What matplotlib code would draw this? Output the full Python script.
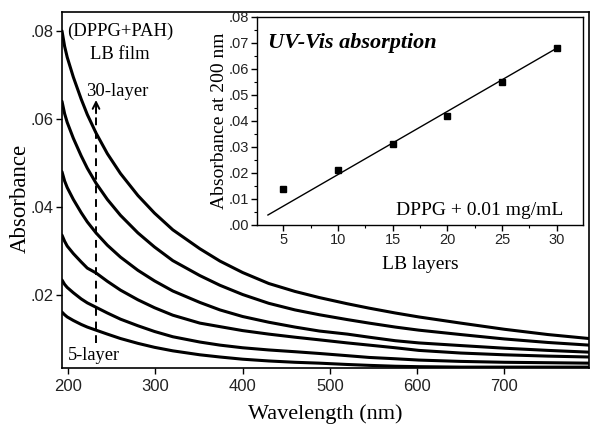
import matplotlib
matplotlib.use("Agg")
import matplotlib.pyplot as plt
from matplotlib.ticker import FixedLocator, FuncFormatter, MultipleLocator

# ---------------- data ----------------
wavelength = [193, 196, 199, 206, 215, 222, 232, 245, 260, 280, 299, 320, 351,
              374, 400, 430, 460, 488, 520, 545, 575, 602, 650, 700, 750, 797]
abs_30 = [.0800, .0765, .0740, .0695, .0645, .0610, .0568, .0521, .0476, .0426, .0386, .0348, .0305,
          .0277, .0251, .0226, .0208, .0194, .0180, .0170, .0159, .0150, .0136, .0122, .0110, .0101]
abs_25 = [.0640, .0612, .0592, .0556, .0516, .0488, .0454, .0417, .0381, .0341, .0309, .0278, .0244,
          .0222, .0201, .0181, .0166, .0155, .0144, .0136, .0127, .0120, .0110, .0100, .0092, .0086]
abs_20 = [.0480, .0459, .0444, .0417, .0387, .0366, .0341, .0313, .0286, .0256, .0232, .0209, .0183,
          .0166, .0151, .0138, .0127, .0118, .0111, .0104, .0096, .0091, .0085, .0079, .0074, .0070]
abs_15 = [.0336, .0322, .0311, .0294, .0275, .0261, .0250, .0231, .0211, .0189, .0171, .0154, .0136,
          .0128, .0119, .0111, .0104, .0098, .0091, .0086, .0080, .0074, .0068, .0064, .0061, .0059]
abs_10 = [.0234, .0224, .0217, .0205, .0191, .0182, .0172, .0159, .0145, .0130, .0117, .0105, .0093,
          .0086, .0080, .0075, .0071, .0067, .0062, .0058, .0055, .0052, .0049, .0047, .0046, .0045]
abs_05 = [.0161, .0155, .0150, .0142, .0133, .0127, .0120, .0111, .0101, .0090, .0081, .0073, .0064,
          .0059, .0054, .0050, .0047, .0045, .0042, .0040, .0038, .0037, .0036, .0036, .0036, .0036]
curves = [abs_30, abs_25, abs_20, abs_15, abs_10, abs_05]

main_xticks = [200, 300, 400, 500, 600, 700]
main_yticks = [0.02, 0.04, 0.06, 0.08]

lb_layers = [5, 10, 15, 20, 25, 30]
abs_200 = [0.014, 0.021, 0.031, 0.042, 0.055, 0.068]
fit_slope = 0.00243
fit_intercept = -0.0049
fit_range = [3.6, 30.0]

inset_xticks = [5, 10, 15, 20, 25, 30]
inset_yticks = [0.00, 0.01, 0.02, 0.03, 0.04, 0.05, 0.06, 0.07, 0.08]

arrow_wl = 232
arrow_from = 0.0091
arrow_to = 0.0643

serif = ["Liberation Serif", "DejaVu Serif"]
sans = ["Liberation Sans", "DejaVu Sans"]


def dotfmt(v, pos):
    s = "%.2f" % v
    return s[1:] if s.startswith("0") else s


fig = plt.figure(figsize=(5.9, 4.24), dpi=100)

# ---------------- main axes ----------------
ax = fig.add_axes([62 / 590, 1 - 368 / 424, (589 - 62) / 590, (368 - 12) / 424])
for c in curves:
    ax.plot(wavelength, c, color="black", lw=2.2, solid_joinstyle="round",
            solid_capstyle="round")
ax.set_xlim(193, 797)
ax.set_ylim(0.0034, 0.0843)
ax.xaxis.set_major_locator(FixedLocator(main_xticks))
ax.yaxis.set_major_locator(FixedLocator(main_yticks))
ax.yaxis.set_major_formatter(FuncFormatter(dotfmt))
ax.tick_params(direction="out", length=4, width=1, labelsize=12, pad=2)
ax.tick_params(axis="x", pad=4)
for lab in ax.get_xticklabels() + ax.get_yticklabels():
    lab.set_family(sans)
    lab.set_color("#222222")
for sp in ax.spines.values():
    sp.set_linewidth(1.2)
ax.set_xlabel("Wavelength (nm)", family=serif, fontsize=16, labelpad=7)
ax.set_ylabel("Absorbance", family=serif, fontsize=16.5, va="center")
ax.yaxis.set_label_coords(-0.080, 0.475)

# dashed arrow
ax.plot([arrow_wl, arrow_wl], [arrow_from, arrow_to - 0.002], color="black",
        lw=1.4, ls=(0, (4, 3)))
ax.annotate("", xy=(arrow_wl, arrow_to), xytext=(arrow_wl, arrow_to - 0.003),
            arrowprops=dict(arrowstyle="->", lw=1.4, color="black",
                            mutation_scale=12, shrinkA=0, shrinkB=0))

ax.text(0.010, 0.947, "(DPPG+PAH)", transform=ax.transAxes, family=serif,
        fontsize=13.4, ha="left", va="center")
ax.text(0.110, 0.882, "LB film", transform=ax.transAxes, family=serif,
        fontsize=13.4, ha="center", va="center")
ax.text(0.046, 0.776, "30-layer", transform=ax.transAxes, family=serif,
        fontsize=13.4, ha="left", va="center")
ax.text(0.012, 0.034, "5-layer", transform=ax.transAxes, family=serif,
        fontsize=13.2, ha="left", va="center")

# ---------------- inset ----------------
ins = fig.add_axes([257 / 590, 1 - 225 / 424, (583 - 257) / 590, (225 - 17) / 424])
ins.plot(fit_range, [fit_slope * x + fit_intercept for x in fit_range],
         color="black", lw=1.0)
ins.plot(lb_layers, abs_200, ls="none", marker="s", ms=4.2, color="black")
ins.set_xlim(2.6, 32.4)
ins.set_ylim(0.0, 0.08)
ins.xaxis.set_major_locator(FixedLocator(inset_xticks))
ins.yaxis.set_major_locator(FixedLocator(inset_yticks))
ins.xaxis.set_minor_locator(MultipleLocator(2.5))
ins.yaxis.set_minor_locator(MultipleLocator(0.005))
ins.yaxis.set_major_formatter(FuncFormatter(dotfmt))
ins.tick_params(which="major", direction="out", length=4, width=1,
                labelsize=10.5, pad=2)
ins.tick_params(which="minor", direction="out", length=2, width=0.8)
for lab in ins.get_xticklabels() + ins.get_yticklabels():
    lab.set_family(sans)
    lab.set_color("#222222")
for sp in ins.spines.values():
    sp.set_linewidth(1.0)
ins.set_xlabel("LB layers", family=serif, fontsize=14, labelpad=6)
ins.set_ylabel("Absorbance at 200 nm", family=serif, fontsize=14, labelpad=0)
ins.text(0.035, 0.875, "UV-Vis absorption", transform=ins.transAxes,
         family=serif, fontsize=16, fontweight="bold", fontstyle="italic",
         ha="left", va="center")
ins.text(0.94, 0.068, "DPPG + 0.01 mg/mL", transform=ins.transAxes,
         family=serif, fontsize=14, ha="right", va="center")

fig.savefig("out.png", dpi=100)
